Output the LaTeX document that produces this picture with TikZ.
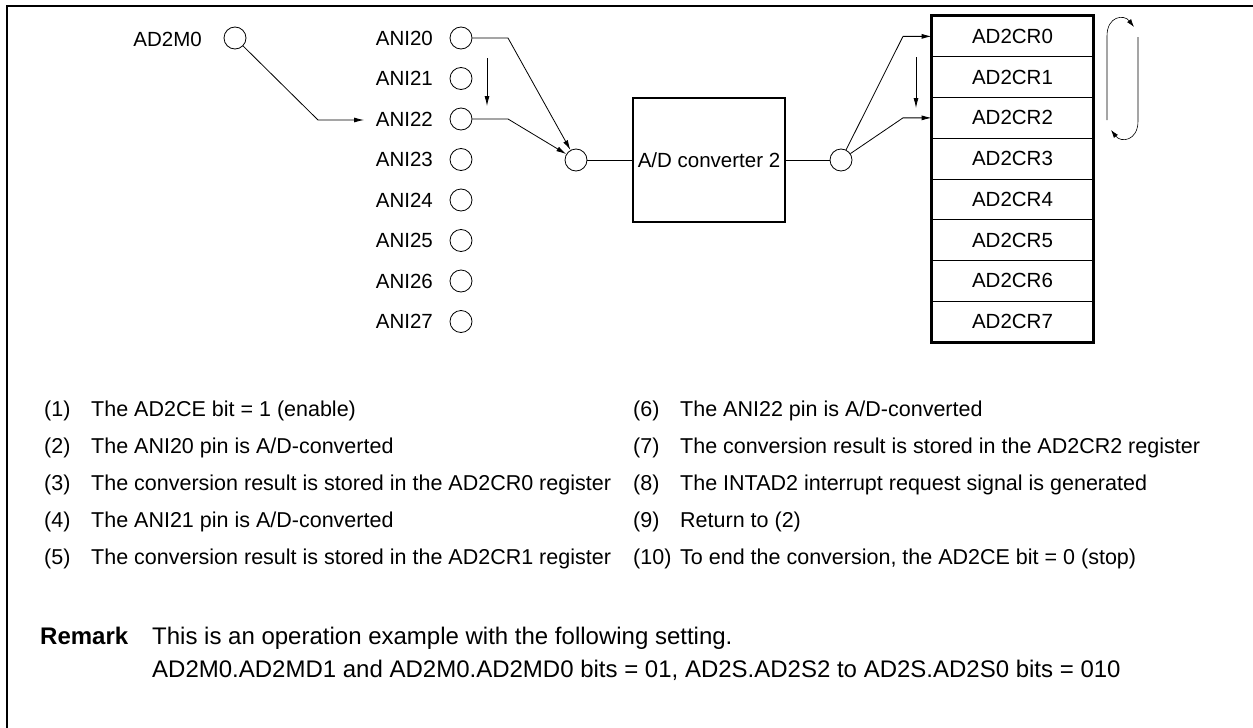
\documentclass[tikz,border=0pt]{standalone}
\usepackage{fontspec}
\setmainfont{Liberation Sans}
\usetikzlibrary{arrows.meta}
\begin{document}
\begin{tikzpicture}[x=1pt,y=-1pt,
  every node/.style={font=\fontsize{20.5}{24}\selectfont},
  pin/.style={circle,draw,line width=0.8pt,minimum size=22pt,inner sep=0pt},
  lbl/.style={anchor=east,inner sep=0pt},
  reg/.style={draw,line width=0.8pt,minimum width=161pt,minimum height=40.75pt,inner sep=0pt},
  conn/.style={line width=0.8pt},
  arr/.style={line width=0.8pt,-{Latex[length=10pt,width=5pt]}},
  txt/.style={anchor=base west,inner sep=0pt,font=\fontsize{21.5}{25}\selectfont},
  rmk/.style={anchor=base west,inner sep=0pt,font=\fontsize{24}{28}\selectfont}]
\useasboundingbox (0,0) rectangle (1253,728);
% frame
\draw[line width=2.5pt] (7,728) -- (7,6) -- (1253,6);
% AD2M0
\node[lbl] (lm0) at (202,39) {AD2M0};
\node[pin] (m0) at (235,38) {};
% ANI pins
\foreach \k in {0,...,7}{
  \node[lbl] (la\k) at (433,38+40.5*\k) {ANI2\k};
  \node[pin] (a\k) at (461,38+40.5*\k) {};
}
% multiplexer circles and converter
\node[pin] (mux1) at (576,160) {};
\node[draw,line width=2pt,minimum width=152pt,minimum height=124pt,inner sep=0pt] (adc) at (709,160) {A/D converter 2};
\node[pin] (mux2) at (841,160) {};
% registers
\foreach \k in {0,...,7}{
  \node[reg] (r\k) at (1012.5,36.375+40.75*\k) {AD2CR\k};
}
\draw[line width=2.5pt] (r0.north west) rectangle (r7.south east);
% connectors
\coordinate (m0b) at (318,120);
\coordinate (m0t) at (364,120);
\draw[arr] (m0) -- (m0b) -- (m0t);
\coordinate (a0b) at (508,38);
\coordinate (a2b) at (508,119);
\draw[arr] (a0.east) -- (a0b) -- (mux1);
\draw[arr] (a2.east) -- (a2b) -- (mux1);
\coordinate (s1a) at (487,58);
\coordinate (s1b) at (487,106);
\draw[arr] (s1a) -- (s1b);
\draw[conn] (mux1) -- (adc.west |- mux1);
\draw[conn] (adc.east |- mux2) -- (mux2);
\coordinate (r0b) at (903,36.375);
\coordinate (r2b) at (903,117.875);
\draw[arr] (mux2) -- (r0b) -- (r0.west);
\draw[arr] (mux2) -- (r2b) -- (r2.west);
\coordinate (s2a) at (916,57);
\coordinate (s2b) at (916,108);
\draw[arr] (s2a) -- (s2b);
% loop
\draw[line width=0.6pt,-{Latex[length=8pt,width=5pt]}] (1107,120) -- (1107,36) .. controls (1107,16) and (1124,14) .. (1134,27);
\draw[line width=0.6pt,-{Latex[length=8pt,width=5pt]}] (1138,37) -- (1138,121) .. controls (1138,141) and (1121,143) .. (1111,130);
% list
\node[txt] (n1) at (44,416) {(1)};
\node[txt] (t1) at (91,416) {The AD2CE bit = 1 (enable)};
\node[txt] (n2) at (44,453) {(2)};
\node[txt] (t2) at (91,453) {The ANI20 pin is A/D-converted};
\node[txt] (n3) at (44,490) {(3)};
\node[txt] (t3) at (91,490) {The conversion result is stored in the AD2CR0 register};
\node[txt] (n4) at (44,527) {(4)};
\node[txt] (t4) at (91,527) {The ANI21 pin is A/D-converted};
\node[txt] (n5) at (44,564) {(5)};
\node[txt] (t5) at (91,564) {The conversion result is stored in the AD2CR1 register};
\node[txt] (n6) at (633,416) {(6)};
\node[txt] (t6) at (680,416) {The ANI22 pin is A/D-converted};
\node[txt] (n7) at (633,453) {(7)};
\node[txt] (t7) at (680,453) {The conversion result is stored in the AD2CR2 register};
\node[txt] (n8) at (633,490) {(8)};
\node[txt] (t8) at (680,490) {The INTAD2 interrupt request signal is generated};
\node[txt] (n9) at (633,527) {(9)};
\node[txt] (t9) at (680,527) {Return to (2)};
\node[txt] (n10) at (633,564) {(10)};
\node[txt] (t10) at (680,564) {To end the conversion, the AD2CE bit = 0 (stop)};
% remark
\node[rmk] (rk) at (40,644) {\bfseries Remark};
\node[rmk] (rk1) at (152,644) {This is an operation example with the following setting.};
\node[rmk] (rk2) at (152,677) {AD2M0.AD2MD1 and AD2M0.AD2MD0 bits = 01, AD2S.AD2S2 to AD2S.AD2S0 bits = 010};
\end{tikzpicture}
\end{document}
